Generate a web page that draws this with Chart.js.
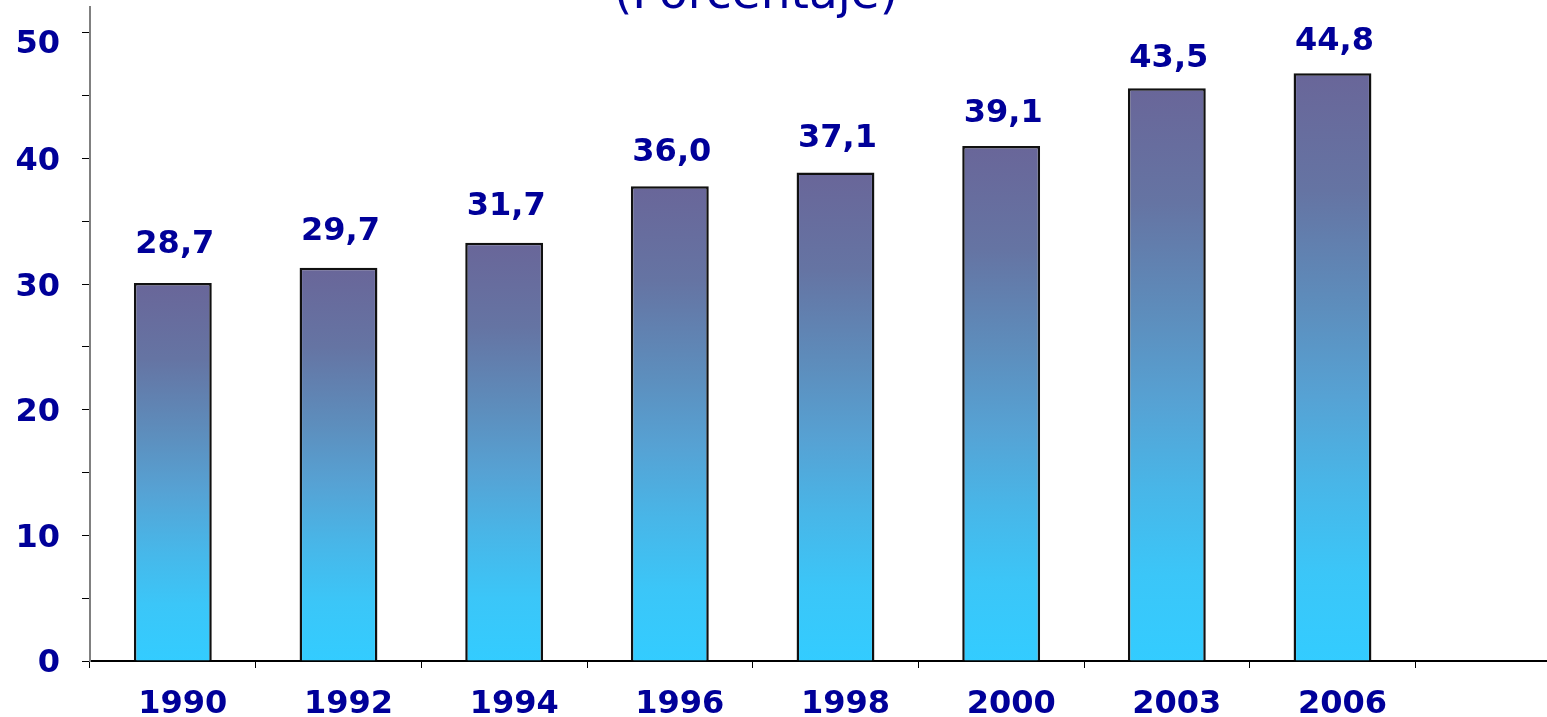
<!DOCTYPE html>
<html><head><meta charset="utf-8">
<script src="https://cdn.jsdelivr.net/npm/chart.js@4/dist/chart.umd.min.js"></script>
<style>
html,body{margin:0;padding:0;background:#fff;overflow:hidden;}
#frame{position:relative;width:1547px;height:717px;overflow:hidden;background:#fff;}
#box{position:absolute;left:0;top:0;width:1581px;height:717px;}
</style></head><body>
<div id="frame"><div id="box"><canvas id="c"></canvas></div></div>
<script>
// ---- data ----
const categories = ['1990', '1992', '1994', '1996', '1998', '2000', '2003', '2006', ''];
const barValues = [30.1, 31.3, 33.3, 37.8, 38.9, 41.0, 45.6, 46.8];
const labelValues = [28.7, 29.7, 31.7, 36.0, 37.1, 39.1, 43.5, 44.8];
const yTickValues = [0, 10, 20, 30, 40, 50];
const titleText = '(Porcentaje)';

const NAVY = '#000099';
const FONT = 'DejaVu Sans';
const fmt = v => v.toFixed(1).replace('.', ',');

function barGradient(c) {
  const chart = c.chart;
  const i = c.dataIndex;
  if (!chart.chartArea || i === undefined || !chart.scales.y) return '#5a96c4';
  const y = chart.scales.y;
  const top = y.getPixelForValue(barValues[i]);
  const bottom = y.getPixelForValue(0);
  const g = chart.ctx.createLinearGradient(0, top, 0, bottom);
  g.addColorStop(0.00, '#696699');
  g.addColorStop(0.20, '#6574a3');
  g.addColorStop(0.40, '#5d8ebd');
  g.addColorStop(0.55, '#56a2d4');
  g.addColorStop(0.70, '#48b6e8');
  g.addColorStop(0.85, '#3bc6f8');
  g.addColorStop(1.00, '#33ccff');
  return g;
}

const valueLabels = {
  id: 'valueLabels',
  afterDatasetsDraw(chart) {
    const ctx = chart.ctx;
    const meta = chart.getDatasetMeta(0);
    const y = chart.scales.y;
    ctx.save();
    ctx.font = 'bold 32px "' + FONT + '"';
    ctx.fillStyle = NAVY;
    ctx.textAlign = 'center';
    ctx.textBaseline = 'alphabetic';
    meta.data.forEach((bar, i) => {
      ctx.fillText(fmt(labelValues[i]), bar.x + 2, y.getPixelForValue(labelValues[i]) - 48);
    });
    ctx.restore();
  }
};

const titleDraw = {
  id: 'titleDraw',
  afterDraw(chart) {
    const ctx = chart.ctx;
    ctx.save();
    ctx.font = 'normal 47px "' + FONT + '"';
    ctx.fillStyle = NAVY;
    ctx.textAlign = 'center';
    ctx.textBaseline = 'alphabetic';
    ctx.fillText(titleText, 756, 7.5);
    ctx.restore();
  }
};

new Chart(document.getElementById('c'), {
  type: 'bar',
  data: {
    labels: categories,
    datasets: [{
      data: barValues,
      backgroundColor: barGradient,
      borderColor: '#111111',
      borderWidth: 2.5,
      barPercentage: 0.47,
      categoryPercentage: 1.0
    }]
  },
  options: {
    responsive: true,
    maintainAspectRatio: false,
    animation: false,
    devicePixelRatio: 1,
    layout: { padding: { top: 7, left: 0, right: 0, bottom: 0 } },
    plugins: { legend: { display: false }, tooltip: { enabled: false }, title: { display: false } },
    scales: {
      x: {
        type: 'category',
        offset: true,
        grid: { display: true, offset: true, drawOnChartArea: false, drawTicks: true, tickLength: 7, color: '#000', lineWidth: 1 },
        border: { display: true, color: '#000', width: 2 },
        ticks: { color: NAVY, font: { family: FONT, size: 32, weight: 'bold' }, padding: 17, labelOffset: 10, maxRotation: 0, autoSkip: false },
        afterFit(s) { s.height = 56; s.paddingLeft = 0; s.paddingRight = 0; }
      },
      y: {
        min: 0,
        max: 52.07,
        grid: { display: true, drawOnChartArea: false, drawTicks: true, tickLength: 8, color: '#000', lineWidth: 1 },
        border: { display: true, color: '#808080', width: 2 },
        ticks: {
          stepSize: 5,
          includeBounds: false,
          padding: 22,
          labelOffset: 3,
          color: NAVY,
          font: c => ({ family: FONT, size: 32, weight: 'bold',
                        lineHeight: (c.tick && c.tick.value === yTickValues[yTickValues.length - 1]) ? '18px' : 1.2 }),
          callback: v => {
            if (!yTickValues.includes(v)) return '';
            return v === yTickValues[yTickValues.length - 1] ? ['', String(v)] : String(v);
          }
        },
        afterFit(s) { s.width = 90; s.paddingTop = 0; s.paddingBottom = 0; }
      }
    }
  },
  plugins: [valueLabels, titleDraw]
});
</script>
</body></html>
